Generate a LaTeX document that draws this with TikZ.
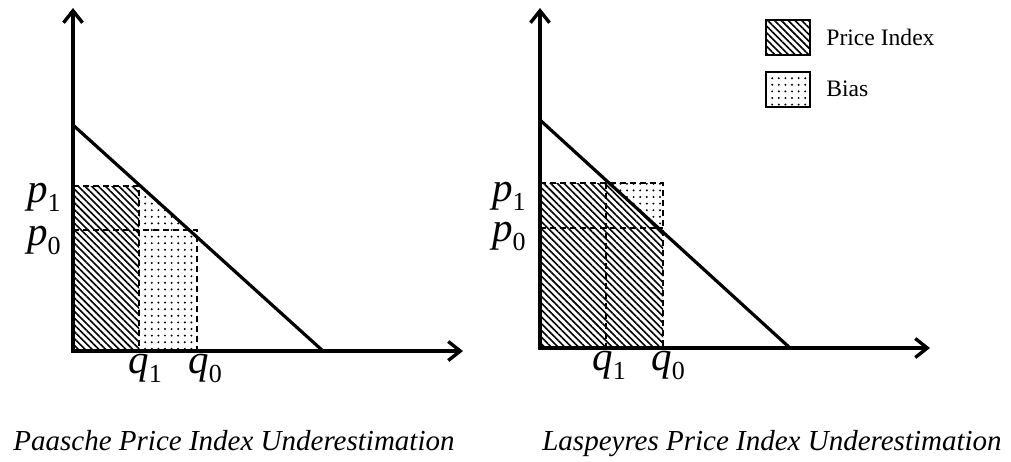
\documentclass[tikz,border=0pt]{standalone}
\usepackage{fontspec}
\setmainfont{Liberation Serif}
\usetikzlibrary{arrows.meta, positioning, patterns.meta}

\newcommand{\axlab}[2]{\textit{#1}\raisebox{-4.5pt}{\fontsize{13}{14}\selectfont #2}}

\begin{document}
\begin{tikzpicture}[
  x=0.5pt, y=-0.5pt,
  every node/.style={inner sep=0pt},
  axis/.style={line width=1.7pt, line join=miter,
               {Straight Barb[length=6pt, width=9.5pt]}-{Straight Barb[length=6pt, width=9.5pt]}},
  demand/.style={line width=1.6pt},
  guide/.style={line width=0.6pt, dash pattern=on 3pt off 2pt},
  hatch/.style={pattern={Lines[angle=-45, distance=2.4pt, line width=0.8pt]}},
  dotfill/.style={pattern={Dots[radius=0.55pt, distance=3.3pt]}},
  keybox/.style={draw, line width=1pt, minimum width=22pt, minimum height=17.5pt},
  lbl/.style={font=\fontsize{20.5}{24}\selectfont},
  keytext/.style={font=\fontsize{11.8}{14}\selectfont},
  caption/.style={font=\fontsize{14.5}{17}\selectfont\itshape},
]
\useasboundingbox (0,0) rectangle (1011,461);

% Paasche panel
\coordinate (O1) at (73,351);
\coordinate (Y1) at (73,8);
\coordinate (X1) at (463,351);
\coordinate (D1a) at (73,125);
\coordinate (D1b) at (323,351);
\path[hatch] (73,186) rectangle (139,351);
\path[dotfill] (139,186) -- (140.5,186) -- (189,230) -- (197,230) -- (197,351) -- (139,351) -- cycle;
\draw[guide] (73,186) -| (139,351);
\draw[guide] (73,230) -| (197,351);
\draw[demand] (D1a) -- (D1b);
\draw[axis] (Y1) -- (O1) -- (X1);
\node[lbl, anchor=base east] (p1a) at (61,202) {\axlab{p}{1}};
\node[lbl, anchor=base east] (p0a) at (61,245) {\axlab{p}{0}};
\node[lbl, anchor=base west] (q1a) at (128,373) {\axlab{q}{1}};
\node[lbl, anchor=base west] (q0a) at (188,373) {\axlab{q}{0}};
\node[caption, anchor=base] (paasche) at (234,450) {Paasche Price Index Underestimation};

% Laspeyres panel
\coordinate (O2) at (540,348);
\coordinate (Y2) at (540,8);
\coordinate (X2) at (930,348);
\coordinate (D2a) at (540,120);
\coordinate (D2b) at (790,348);
\path[hatch] (540,348) -- (540,183) -- (609,183) -- (663,232) -- (663,348) -- cycle;
\path[dotfill] (609,183) -- (663,183) -- (663,232) -- cycle;
\draw[guide] (540,183) -| (663,348);
\draw[guide] (540,228) -- (663,228);
\draw[guide] (606,183) -- (606,348);
\draw[demand] (D2a) -- (D2b);
\draw[axis] (Y2) -- (O2) -- (X2);
\node[lbl, anchor=base east] (p1b) at (526,201) {\axlab{p}{1}};
\node[lbl, anchor=base east] (p0b) at (526,241) {\axlab{p}{0}};
\node[lbl, anchor=base west] (q1b) at (592,370) {\axlab{q}{1}};
\node[lbl, anchor=base west] (q0b) at (651,370) {\axlab{q}{0}};
\node[caption, anchor=base] (laspeyres) at (772,450) {Laspeyres Price Index Underestimation};

% legend
\node[keybox, hatch] (keyidx) at (788,37.5) {};
\node[keybox, dotfill] (keybias) at (788,89) {};
\node[keytext, right=7.5pt of keyidx] (idxtext) {Price Index};
\node[keytext, right=7.5pt of keybias] (biastext) {Bias};
\end{tikzpicture}
\end{document}
